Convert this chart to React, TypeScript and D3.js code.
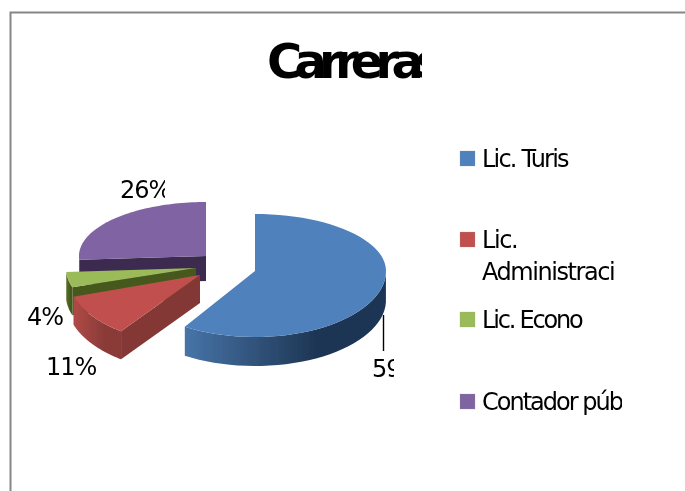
import React from "react";
import * as d3 from "d3";

const categories = ["Lic. Turismo", "Lic. Administración", "Lic. Economía", "Contador público"];
const values = [59, 11, 4, 26];
const dataLabels = ["59%", "11%", "4%", "26%"];
const legendLines = [["Lic. Turis"], ["Lic.", "Administraci"], ["Lic. Econo"], ["Contador púb"]];
const topColors = ["#4f81bd", "#c0504d", "#9bbb59", "#8064a2"];
const cutColors = ["#3d6594", "#843735", "#47591f", "#3c2b50"];
const wallLeft = ["#4774a8", "#b04a47", "#5a7028", "#3c2b50"];
const wallRight = ["#1e3654", "#8a3b38", "#47591f", "#3c2b50"];

const W = 685, H = 491;
const geoms = [
  { cx: 255, cy: 271, rx: 131, up: 57, down: 66, d: 29, shift: 0 },
  { cx: 200, cy: 275, rx: 133, up: 57, down: 70, d: 28, shift: 0.07 },
  { cx: 196, cy: 268, rx: 130, up: 57, down: 62, d: 28, shift: 0 },
  { cx: 206, cy: 256, rx: 127, up: 54, down: 60, d: 25, shift: 0 },
];
const labelPos = [
  { x: 372, y: 377, clip: 394 }, { x: 46, y: 375, clip: 110 },
  { x: 27, y: 325, clip: 70 }, { x: 120, y: 198, clip: 165 },
];
const legendY = [167, 248, 328, 410];
const legendClip = [569, 615, 586, 622];
const legendSpacing = [-1.8, -1.45, -2.2, -2];

const arcs = d3.pie<number>().sort(null)(values);
const lineGen = d3.line<[number, number]>();

function proj(i: number, a: number, drop = 0): [number, number] {
  const g = geoms[i];
  const c = Math.cos(a);
  return [g.cx + g.rx * Math.sin(a), g.cy + drop - c * (c > 0 ? g.up : g.down)];
}
const sample = (a0: number, a1: number) =>
  d3.range(0, 61).map((k) => d3.interpolateNumber(a0, a1)(k / 60));

export default function App() {
  const order = [3, 2, 1, 0];
  return (
    <svg width={W} height={H} style={{ position: "absolute", left: 0, top: 0, fontFamily: "'DejaVu Sans'" }}>
      <defs>
        <filter id="soft" x="-5%" y="-5%" width="110%" height="110%">
          <feGaussianBlur stdDeviation="0.6" />
        </filter>
        <filter id="softText" x="-5%" y="-20%" width="110%" height="140%">
          <feGaussianBlur stdDeviation="0.4" />
        </filter>
        {arcs.map((_, i) => (
          <linearGradient key={i} id={`wall${i}`} x1="0" x2="1" y1="0" y2="0">
            <stop offset="0" stopColor={wallLeft[i]} />
            <stop offset="0.65" stopColor={wallRight[i]} />
            <stop offset="1" stopColor={wallRight[i]} />
          </linearGradient>
        ))}
        {labelPos.map((p, i) => (
          <clipPath key={i} id={`lab${i}`}>
            <rect x={0} y={0} width={p.clip} height={H} />
          </clipPath>
        ))}
        {legendClip.map((c, i) => (
          <clipPath key={i} id={`leg${i}`}>
            <rect x={0} y={0} width={c} height={H} />
          </clipPath>
        ))}
        <clipPath id="titleClip"><rect x={0} y={0} width={422} height={120} /></clipPath>
      </defs>
      <rect x={0} y={0} width={W} height={H} fill="#fff" />
      <path d={`M10.5,${H}V12.5H${W}`} fill="none" stroke="#868686" strokeWidth={2} />
      <g clipPath="url(#titleClip)">
        <text x={267} y={78} fontSize={48} fontWeight={700} letterSpacing={-7.8} filter="url(#softText)">Carreras</text>
      </g>

      <g filter="url(#soft)">
        {order.map((i) => {
          const a = arcs[i];
          const g = geoms[i];
          const apex: [number, number] = [g.cx, g.cy];
          const apexLow: [number, number] = [g.cx, g.cy + g.d];
          const angles = sample(a.startAngle + g.shift, a.endAngle);
          const front = angles.filter((t) => t >= Math.PI / 2 && t <= (3 * Math.PI) / 2 + 0.09);
          const top = angles.map((t) => proj(i, t));
          const wallPts = [...front.map((t) => proj(i, t)), ...front.slice().reverse().map((t) => proj(i, t, g.d))];
          const endCut: [number, number][] = [apex, proj(i, a.endAngle), proj(i, a.endAngle, g.d), apexLow];
          const startCut: [number, number][] = [apex, proj(i, a.startAngle + g.shift), proj(i, a.startAngle + g.shift, g.d), apexLow];
          return (
            <g key={i}>
              {i === 1 && <path d={lineGen(startCut)! + "Z"} fill={cutColors[i]} />}
              {i === 3 && <path d={lineGen(endCut)! + "Z"} fill={cutColors[i]} />}
              {i === 3 && <path d={lineGen(startCut)! + "Z"} fill={cutColors[i]} />}
              {i === 2 && <path d={lineGen(startCut)! + "Z"} fill={cutColors[i]} />}
              {front.length > 1 && <path d={lineGen(wallPts)! + "Z"} fill={`url(#wall${i})`} />}
              <path d={lineGen([apex, ...top])! + "Z"} fill={topColors[i]} />
            </g>
          );
        })}
      </g>

      <line x1={383.5} x2={383.5} y1={315} y2={351} stroke="#000" strokeWidth={1.4} />
      {dataLabels.map((t, i) => (
        <g key={i} clipPath={`url(#lab${i})`}>
          <text x={labelPos[i].x} y={labelPos[i].y} fontSize={24} letterSpacing={-1} filter="url(#softText)">{t}</text>
        </g>
      ))}

      {categories.map((c, i) => (
        <g key={c}>
          <rect x={460} y={legendY[i] - 16} width={15} height={15} fill={topColors[i]} stroke="#9a9a9a" strokeOpacity={0.5} strokeWidth={0.5} />
          <g clipPath={`url(#leg${i})`}>
            {legendLines[i].map((t, k) => (
              <text key={k} x={482} y={legendY[i] + k * 32} fontSize={24} letterSpacing={legendSpacing[i]} filter="url(#softText)">{t}</text>
            ))}
          </g>
        </g>
      ))}
    </svg>
  );
}
